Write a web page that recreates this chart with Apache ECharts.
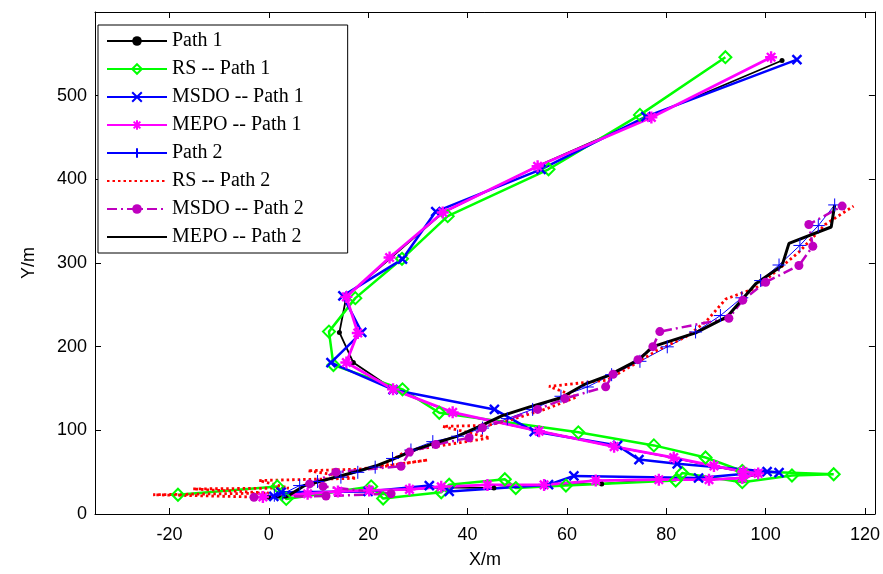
<!DOCTYPE html>
<html><head><meta charset="utf-8">
<script src="https://cdn.jsdelivr.net/npm/echarts@6/dist/echarts.min.js"></script>
<style>html,body{margin:0;padding:0;background:#fff}#c{width:883px;height:574px}</style>
</head><body><div id="c"></div>
<script>
// ---- data ----
const xTicks = [-20, 0, 20, 40, 60, 80, 100, 120];
const yTicks = [0, 100, 200, 300, 400, 500];

const path1X = [0, 8, 14, 20, 28, 35, 45.3, 55.5, 67, 78.5, 88.5, 95.3, 98.3, 95.5, 89.6, 81.5, 69.5, 54.5, 37, 25, 17, 14.2, 15.6, 24.5, 35, 54.2, 77, 103.3];
const path1Y = [20, 24, 26.5, 28, 29.5, 32, 31, 35, 36, 41, 41, 43, 47, 50.5, 57, 67, 80.5, 99, 121, 149, 181, 217, 260, 306, 360, 416, 476, 542];

const rs1X = [-18.3, 1.7, 3.5, 20.6, 23, 34.7, 36.3, 47.5, 49.7, 59.8, 81.9, 83.2, 95.3, 105.3, 113.7, 95.3, 87.9, 77.5, 62.3, 34.3, 26.9, 13, 12.1, 17.4, 26.8, 36, 56.3, 74.7, 91.9];
const rs1Y = [23, 33, 18, 33, 18.5, 26, 35, 41.5, 31, 34, 40, 49, 38, 46, 47.5, 51.5, 67.5, 82, 97.6, 121, 149, 178, 218, 258, 305, 356, 412, 477, 546];

const msdo1X = [1, 2.5, 20, 32.3, 36.3, 56.3, 61.4, 86.5, 100.3, 102.7, 82.2, 74.5, 70.2, 53.4, 45.4, 25, 12.5, 18.7, 14.9, 26.9, 33.6, 54.8, 75.9, 106.3];
const msdo1Y = [21, 26, 27, 34, 27, 35, 45.5, 43, 50.6, 49.5, 60, 65, 82, 98.5, 125, 148.6, 181, 217, 260.7, 304.7, 361.5, 412, 475, 543];

const mepo1X = [-1.2, 7.8, 13.9, 20.2, 28.3, 34.7, 44, 55.4, 65.8, 78.5, 88.6, 95.3, 98.5, 95.5, 89.6, 81.5, 69.5, 54.4, 37, 25, 15.6, 17.9, 15.6, 24.3, 35, 54.1, 77, 101.1];
const mepo1Y = [20.4, 24.2, 27, 28.2, 29.4, 32.5, 34.8, 34.8, 40, 41, 41, 43, 48.5, 50.5, 57.5, 67.4, 80.5, 99, 121.5, 149, 181, 216.4, 259.5, 306.6, 360.4, 415.6, 474, 546];

const path2X = [1.1, 2.8, 6.2, 9.8, 14.5, 17.9, 21.4, 24.9, 28.6, 33, 38, 43, 48, 53.1, 58.8, 64.1, 69, 74.7, 80.2, 85.9, 90.9, 95.2, 99, 102.7, 106.9, 110.6, 113.9];
const path2Y = [22.4, 24.2, 34, 38.8, 44, 49.8, 56, 66.4, 76.5, 86.5, 93, 102.7, 114, 125, 140.7, 151.8, 166.5, 182.5, 199.8, 217.6, 237.2, 258.4, 279, 297.6, 321, 344.7, 369.4];

const rs2X = [0, -23.3, 0, -15.3, 4, -2, 17.6, 7.8, 18, 32, 22.2, 28, 35, 44.5, 35, 44, 49, 56, 62, 56.4, 68, 73, 78, 84, 88, 92, 98, 102.5, 106.6, 112, 117.7];
const rs2Y = [20, 23, 25, 30, 31, 40, 42.7, 51.8, 53.5, 64.5, 56, 76, 82, 91, 104.7, 106, 113, 126, 140, 152.5, 160, 177, 195, 212, 230, 257, 270, 292, 312.5, 346, 368];

const msdo2X = [-3, 11.5, 24.6, 10.9, 8.2, 13.5, 26.6, 28.3, 33.6, 40.3, 43, 54.1, 59.6, 67.8, 69.3, 74.3, 77.3, 78.7, 92.6, 95.4, 100, 106.7, 109.5, 108.7, 115.4];
const msdo2Y = [20, 21.5, 24.2, 33, 36, 50, 57, 74, 83, 91, 103, 125, 138, 152, 167, 184.5, 200, 218, 234, 255.6, 277, 297, 320, 346, 368];

const mepo2X = [0.8, 3.5, 7.2, 10.9, 17.6, 21.6, 24.9, 29.6, 33.6, 38, 42.4, 47, 52.5, 58.8, 63.8, 68.5, 74.5, 77.3, 85.9, 92.3, 98, 103.3, 104.7, 113.2, 113.9];
const mepo2Y = [20.3, 20.3, 34, 40, 50.6, 57.6, 65.4, 77.2, 85, 93, 104.7, 117.5, 128, 139, 155.6, 166, 184.5, 200, 216.4, 236, 275.3, 296.8, 323.5, 343, 369.4];

// ---- chart ----
const zip = (xs, ys) => xs.map((x, i) => [x, ys[i]]);
const X_SYM = 'path://M0 0L10 10M10 0L0 10';
const PLUS_SYM = 'path://M5 0L5 10M0 5L10 5';
const STAR_SYM = 'path://M5 0L5 10M0 5L10 5M1.5 1.5L8.5 8.5M8.5 1.5L1.5 8.5';
const DIAM_SYM = 'path://M5 0L10 5L5 10L0 5Z';
const NONE_SYM = 'path://M0 0L1 0L1 1L0 1Z';

function mk(name, xs, ys, o) {
  return {
    name, type: 'line', data: zip(xs, ys), xAxisIndex: 0, yAxisIndex: 0,
    showSymbol: !!o.symbol, symbol: o.symbol || NONE_SYM, symbolSize: o.size || 2,
    symbolKeepAspect: true,
    lineStyle: { color: o.color, width: o.width, type: o.type || 'solid' },
    itemStyle: o.item || (o.symbol ? { color: o.color } : { color: 'rgba(255,255,255,0)', borderWidth: 0 }),
    animation: false, emphasis: { disabled: true }, silent: true
  };
}

const series = [
  mk('Path 1', path1X, path1Y, { color: '#000', width: 1.8, symbol: 'circle', size: 5 }),
  mk('RS -- Path 1', rs1X, rs1Y, { color: '#00ff00', width: 2.5, symbol: DIAM_SYM, size: 12,
      item: { color: 'rgba(0,0,0,0)', borderColor: '#00ff00', borderWidth: 2 } }),
  mk('MSDO -- Path 1', msdo1X, msdo1Y, { color: '#0000ff', width: 2.5, symbol: X_SYM, size: 9,
      item: { color: '#0000ff', borderColor: '#0000ff', borderWidth: 2.4 } }),
  mk('MEPO -- Path 1', mepo1X, mepo1Y, { color: '#ff00ff', width: 2.8, symbol: STAR_SYM, size: 12,
      item: { color: '#ff00ff', borderColor: '#ff00ff', borderWidth: 2.4 } }),
  mk('Path 2', path2X, path2Y, { color: '#0000ff', width: 1, symbol: PLUS_SYM, size: 13,
      item: { color: '#0000ff', borderColor: '#0000ff', borderWidth: 1 } }),
  mk('RS -- Path 2', rs2X, rs2Y, { color: '#ff0000', width: 2.8, type: [2.5, 3] }),
  mk('MSDO -- Path 2', msdo2X, msdo2Y, { color: '#bf00bf', width: 2.5, type: [10, 4, 2, 4], symbol: 'circle', size: 9 }),
  mk('MEPO -- Path 2', mepo2X, mepo2Y, { color: '#000', width: 3 })
];

const axisCommon = {
  type: 'value',
  axisLine: { show: true, onZero: false, lineStyle: { color: '#000', width: 1 } },
  splitLine: { show: false },
};

const chart = echarts.init(document.getElementById('c'), null, { renderer: 'canvas' });
chart.setOption({
  animation: false,
  backgroundColor: '#fff',
  grid: { left: 95, right: 6, top: 12, bottom: 52, containLabel: false },
  xAxis: [
    Object.assign({}, axisCommon, {
      position: 'bottom', min: -35, max: 122,
      name: 'X/m', nameLocation: 'middle', nameGap: 37,
      nameTextStyle: { fontFamily: 'Liberation Sans, Arial', fontSize: 18, color: '#000' },
      axisTick: { show: true, inside: true, length: 6, lineStyle: { color: '#000' }, customValues: xTicks },
      axisLabel: { show: true, color: '#000', fontFamily: 'Liberation Sans, Arial', fontSize: 18, margin: 12, customValues: xTicks }
    }),
    Object.assign({}, axisCommon, {
      position: 'top', min: -35, max: 122,
      axisTick: { show: true, inside: true, length: 6, lineStyle: { color: '#000' }, customValues: xTicks },
      axisLabel: { show: false }
    })
  ],
  yAxis: [
    Object.assign({}, axisCommon, {
      position: 'left', min: 0, max: 600,
      name: 'Y/m', nameLocation: 'middle', nameGap: 57, nameRotate: 90,
      nameTextStyle: { fontFamily: 'Liberation Sans, Arial', fontSize: 18, color: '#000' },
      axisTick: { show: true, inside: true, length: 6, lineStyle: { color: '#000' }, customValues: yTicks },
      axisLabel: { show: true, color: '#000', fontFamily: 'Liberation Sans, Arial', fontSize: 18, margin: 8, customValues: yTicks }
    }),
    Object.assign({}, axisCommon, {
      position: 'right', min: 0, max: 600,
      axisTick: { show: true, inside: true, length: 6, lineStyle: { color: '#000' }, customValues: yTicks },
      axisLabel: { show: false }
    })
  ],
  legend: {
    show: true, orient: 'vertical', left: 98, top: 25,
    backgroundColor: '#fff', borderColor: '#000', borderWidth: 1,
    padding: [5, 44, 5, 8],
    itemWidth: 60, itemHeight: 12, itemGap: 6,
    textStyle: { fontFamily: 'Liberation Serif, Times New Roman', fontSize: 20, color: '#000', lineHeight: 22 },
    selectedMode: false,
    data: series.map(s => s.name)
  },
  series
});
</script></body></html>
